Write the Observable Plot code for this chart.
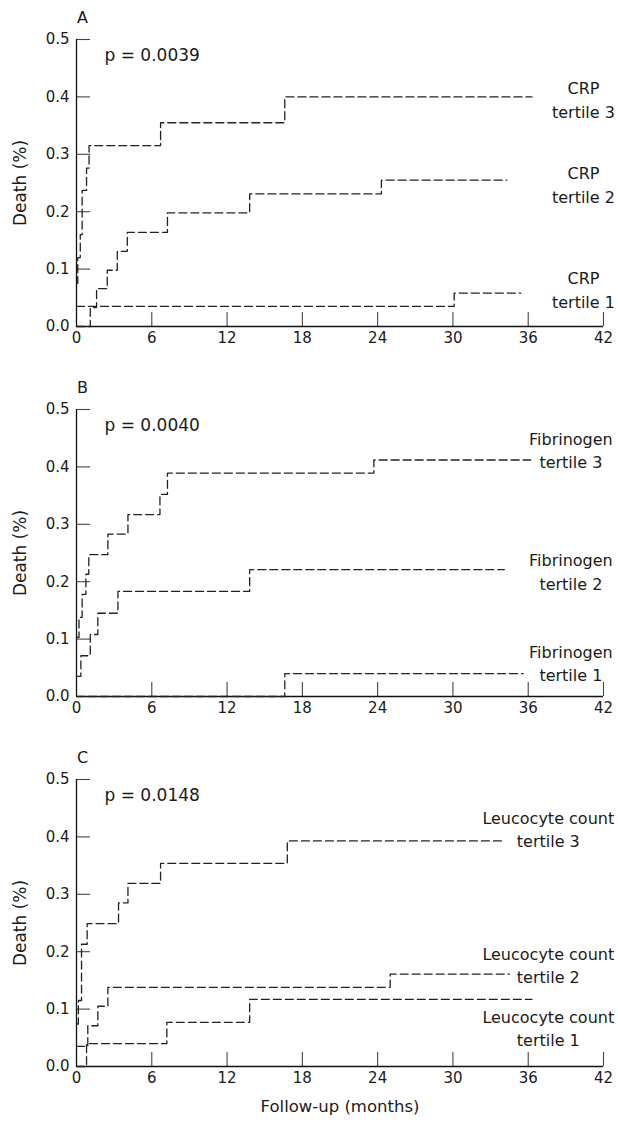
<!DOCTYPE html>
<html>
<head>
<meta charset="utf-8">
<script src="https://cdn.jsdelivr.net/npm/d3@7"></script>
<script src="https://cdn.jsdelivr.net/npm/@observablehq/plot@0.6"></script>
<style>
  html, body { margin: 0; padding: 0; background: #fff; }
  #chart { width: 618px; }
  #chart svg { display: block; overflow: visible; }
</style>
</head>
<body>
<div id="chart"></div>
<script>
// ---------- Data ----------
const xTickValues = [0, 6, 12, 18, 24, 30, 36, 42];
const yTickValues = [0.0, 0.1, 0.2, 0.3, 0.4, 0.5];

// Panel A: CRP
const crp3Months = [0, 0.1, 0.3, 0.45, 0.8, 1.0, 6.7, 16.6, 36.3];
const crp3Death  = [0.075, 0.12, 0.16, 0.237, 0.276, 0.315, 0.355, 0.40, 0.40];
const crp2Months = [0, 1.1, 1.6, 2.45, 3.25, 4.05, 7.25, 13.8, 24.3, 34.3];
const crp2Death  = [0, 0.033, 0.066, 0.098, 0.131, 0.164, 0.198, 0.231, 0.255, 0.255];
const crp1Months = [0, 30.1, 35.4];
const crp1Death  = [0.035, 0.058, 0.058];

// Panel B: Fibrinogen
const fib3Months = [0, 0.2, 0.45, 0.75, 0.98, 2.5, 4.1, 6.65, 7.25, 23.7, 36.2];
const fib3Death  = [0.103, 0.138, 0.178, 0.213, 0.247, 0.283, 0.317, 0.352, 0.389, 0.412, 0.412];
const fib2Months = [0, 0.35, 1.1, 1.7, 3.3, 13.8, 34.1];
const fib2Death  = [0.035, 0.071, 0.108, 0.145, 0.183, 0.221, 0.221];
const fib1Months = [0, 16.6, 35.6];
const fib1Death  = [0, 0.04, 0.04];

// Panel C: Leucocyte count
const leu3Months = [0, 0.15, 0.4, 0.85, 3.35, 4.1, 6.7, 16.8, 34.1];
const leu3Death  = [0.074, 0.115, 0.213, 0.249, 0.285, 0.319, 0.354, 0.393, 0.393];
const leu2Months = [0, 0.9, 1.7, 2.5, 25.0, 34.5];
const leu2Death  = [0.035, 0.071, 0.105, 0.138, 0.161, 0.161];
const leu1Months = [0, 0.8, 7.2, 13.8, 36.3];
const leu1Death  = [0, 0.04, 0.077, 0.117, 0.117];

// Panel texts
const panelLetters = ["A", "B", "C"];
const pValues = ["p = 0.0039", "p = 0.0040", "p = 0.0148"];
const crpLabels = ["CRP\ntertile 3", "CRP\ntertile 2", "CRP\ntertile 1"];
const crpLabelX = [40.4, 40.4, 40.4];
const crpLabelY = [0.397, 0.249, 0.066];
const fibLabels = ["Fibrinogen\ntertile 3", "Fibrinogen\ntertile 2", "Fibrinogen\ntertile 1"];
const fibLabelX = [39.4, 39.4, 39.4];
const fibLabelY = [0.431, 0.2195, 0.060];
const leuLabels = ["Leucocyte count\ntertile 3", "Leucocyte count\ntertile 2", "Leucocyte count\ntertile 1"];
const leuLabelX = [37.6, 37.6, 37.6];
const leuLabelY = [0.415, 0.179, 0.0685];

const yAxisTitle = "Death (%)";
const xAxisTitle = "Follow-up (months)";

// ---------- Helpers ----------
function toRows(name, months, death) {
  return months.map((m, i) => ({series: name, month: m, death: death[i]}));
}
function toLabels(texts, xs, ys) {
  return texts.map((t, i) => ({text: t, x: xs[i], y: ys[i]}));
}

const FONT = "DejaVu Sans, sans-serif";
const INK = "#1a1a1a";

function panel({letter, p, series, labels, showXTitle}) {
  const frameH = 287, frameW = 527;
  const marginTop = 39, marginLeft = 76, marginRight = 15;
  const marginBottom = showXTitle ? 57 : 44;
  const height = marginTop + frameH + marginBottom;
  const rows = series.flat();
  return Plot.plot({
    width: 618,
    height,
    marginTop, marginLeft, marginRight, marginBottom,
    x: {domain: [0, 42]},
    y: {domain: [0, 0.5]},
    style: {fontFamily: FONT, color: INK, background: "#fff", overflow: "visible"},
    marks: [
      // tick labels
      Plot.axisX(xTickValues, {tickSize: 0, tickPadding: 6, fontSize: 15, label: null, tickFormat: d => String(d)}),
      Plot.axisY(yTickValues, {tickSize: 0, tickPadding: 7, fontSize: 15, label: null, tickFormat: d => d.toFixed(1)}),
      // inward ticks
      Plot.tickX(xTickValues.filter(d => d > 0), {x: d => d, insetTop: frameH - 14, stroke: "#444", strokeWidth: 1.1}),
      Plot.tickY(yTickValues.filter(d => d > 0), {y: d => d, insetRight: frameW - 14, stroke: "#444", strokeWidth: 1.1}),
      // axis lines
      Plot.ruleX([0], {stroke: "#111", strokeWidth: 1.3}),
      Plot.ruleY([0], {stroke: "#111", strokeWidth: 1.3}),
      // curves
      Plot.line(rows, {
        x: "month", y: "death", z: "series",
        curve: "step-after",
        stroke: "#222", strokeWidth: 1.3, strokeDasharray: "8,4"
      }),
      // series labels
      Plot.text(labels, {
        x: "x", y: "y", text: "text",
        textAnchor: "middle", lineAnchor: "middle", lineHeight: 1.45,
        fontSize: 16, fill: INK
      }),
      // p-value
      Plot.text([p], {frameAnchor: "top-left", dx: 28, dy: 16, textAnchor: "start", lineAnchor: "middle", fontSize: 17, fill: INK}),
      // panel letter
      Plot.text([letter], {frameAnchor: "top-left", dx: 6, dy: -22, textAnchor: "middle", lineAnchor: "middle", fontSize: 16, fill: INK}),
      // y title
      Plot.text([yAxisTitle], {frameAnchor: "left", dx: -56, rotate: -90, textAnchor: "middle", lineAnchor: "middle", fontSize: 17, fill: INK}),
      // x title
      ...(showXTitle ? [Plot.text([xAxisTitle], {frameAnchor: "bottom", dy: 40, textAnchor: "middle", lineAnchor: "middle", fontSize: 16.5, fill: INK})] : [])
    ]
  });
}

const chart = document.getElementById("chart");
chart.append(panel({
  letter: panelLetters[0], p: pValues[0],
  series: [toRows("t3", crp3Months, crp3Death), toRows("t2", crp2Months, crp2Death), toRows("t1", crp1Months, crp1Death)],
  labels: toLabels(crpLabels, crpLabelX, crpLabelY),
  showXTitle: false
}));
chart.append(panel({
  letter: panelLetters[1], p: pValues[1],
  series: [toRows("t3", fib3Months, fib3Death), toRows("t2", fib2Months, fib2Death), toRows("t1", fib1Months, fib1Death)],
  labels: toLabels(fibLabels, fibLabelX, fibLabelY),
  showXTitle: false
}));
chart.append(panel({
  letter: panelLetters[2], p: pValues[2],
  series: [toRows("t3", leu3Months, leu3Death), toRows("t2", leu2Months, leu2Death), toRows("t1", leu1Months, leu1Death)],
  labels: toLabels(leuLabels, leuLabelX, leuLabelY),
  showXTitle: true
}));
</script>
</body>
</html>
